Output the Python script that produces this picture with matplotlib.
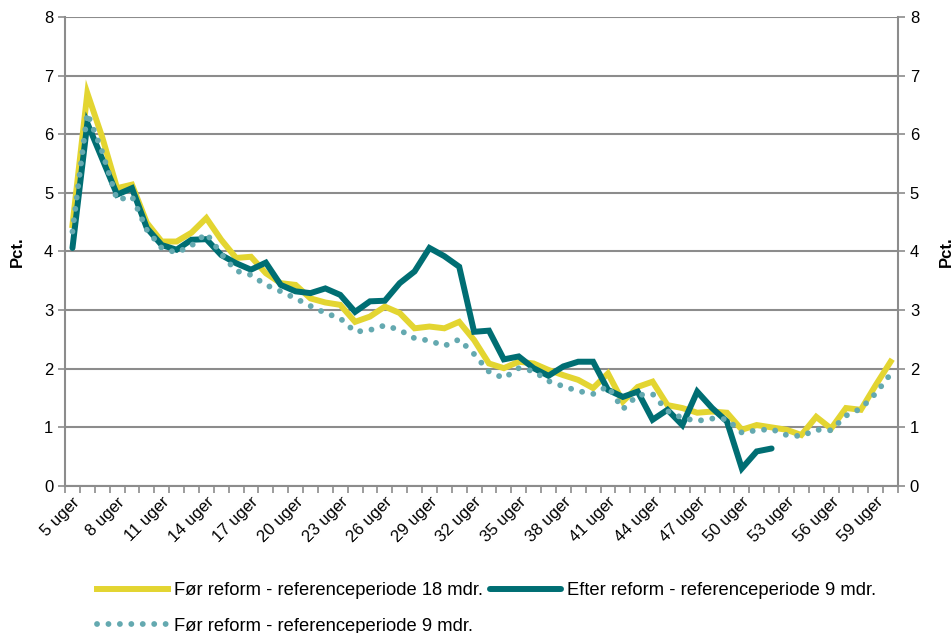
import numpy as np
import matplotlib.pyplot as plt

plt.rcParams['font.family'] = 'sans-serif'
plt.rcParams['font.sans-serif'] = ['Liberation Sans', 'Arial', 'DejaVu Sans']

# =============================================================================
# DATA
# =============================================================================
weeks = list(range(5, 61))
week_labels = [f"{w} uger" for w in weeks]

foer_18 = [4.45, 6.70, 5.95, 5.08, 5.14, 4.49, 4.17, 4.17, 4.32, 4.57,
           4.20, 3.89, 3.91, 3.63, 3.46, 3.43, 3.20, 3.13, 3.09, 2.80,
           2.89, 3.06, 2.95, 2.69, 2.72, 2.69, 2.80, 2.49, 2.09, 2.01,
           2.12, 2.09, 1.98, 1.89, 1.81, 1.67, 1.92, 1.44, 1.69, 1.78,
           1.38, 1.33, 1.25, 1.27, 1.25, 0.96, 1.04, 1.00, 0.96, 0.87,
           1.18, 0.98, 1.33, 1.30, 1.72, 2.12]

efter_9 = [4.06, 6.19, 5.58, 4.97, 5.08, 4.40, 4.11, 4.03, 4.20, 4.21,
           3.94, 3.80, 3.69, 3.81, 3.43, 3.32, 3.29, 3.37, 3.26, 2.97,
           3.15, 3.16, 3.46, 3.66, 4.06, 3.92, 3.74, 2.63, 2.65, 2.16,
           2.21, 2.01, 1.88, 2.04, 2.12, 2.12, 1.64, 1.52, 1.61, 1.13,
           1.30, 1.04, 1.61, 1.33, 1.10, 0.30, 0.59, 0.64]

foer_9 = [4.34, 6.36, 5.70, 4.88, 4.94, 4.37, 4.06, 3.98, 4.10, 4.31,
          3.96, 3.67, 3.60, 3.43, 3.32, 3.20, 3.07, 2.95, 2.86, 2.63,
          2.66, 2.74, 2.66, 2.52, 2.48, 2.39, 2.50, 2.25, 1.95, 1.84,
          2.01, 1.96, 1.79, 1.70, 1.62, 1.57, 1.70, 1.31, 1.55, 1.57,
          1.28, 1.16, 1.11, 1.15, 1.14, 0.91, 0.95, 0.97, 0.87, 0.85,
          0.96, 0.95, 1.20, 1.32, 1.58, 1.91]

# =============================================================================
# PLOT
# =============================================================================
YELLOW = '#E3D531'
TEAL = '#006E73'
DOTS = '#64A9B0'
GRID = '#8C8C8C'

fig = plt.figure(figsize=(9.52, 6.33), dpi=100)
ax = fig.add_axes([0.0683, 0.2322, 0.875, 0.741])

x = np.arange(len(weeks))
l_yel, = ax.plot(x, foer_18, color=YELLOW, linewidth=4.3, solid_joinstyle='miter',
                 label='Før reform - referenceperiode 18 mdr.', zorder=3)
l_teal, = ax.plot(np.arange(len(efter_9)), efter_9, color=TEAL, linewidth=4.3,
                  solid_joinstyle='miter', solid_capstyle='round',
                  label='Efter reform - referenceperiode 9 mdr.', zorder=4)
l_dot, = ax.plot(x, foer_9, color=DOTS, linewidth=4.2, linestyle=(0, (0.01, 1.95)),
                 dash_capstyle='round', label='Før reform - referenceperiode 9 mdr.', zorder=5)

# Axes ranges and grid
ax.set_xlim(-0.5, len(weeks) - 0.5)
ax.set_ylim(0, 8)
ax.set_yticks(range(0, 9))
ax.yaxis.grid(True, color=GRID, linewidth=1.5)
ax.set_axisbelow(True)

# category ticks between points, labels every 3rd
ax.set_xticks(np.arange(-0.5, len(weeks), 1.0), minor=True)
ax.set_xticks(x[::3])
ax.set_xticklabels(week_labels[::3], rotation=45, ha='right',
                   rotation_mode='anchor', fontsize=12)
ax.tick_params(axis='x', which='major', length=0, pad=6)
ax.tick_params(axis='x', which='minor', length=5, width=1.2, color=GRID, direction='out')

ax.tick_params(axis='y', which='major', length=5, width=1.2, color=GRID,
               labelsize=12, direction='out')

for side in ['left', 'right', 'bottom']:
    ax.spines[side].set_color(GRID)
    ax.spines[side].set_linewidth(1.5)
ax.spines['top'].set_visible(False)

ax.set_ylabel('Pct.', fontsize=12, fontweight='bold', labelpad=14)

# right twin axis with mirrored scale
ax2 = ax.twinx()
ax2.set_ylim(0, 8)
ax2.set_yticks(range(0, 9))
ax2.tick_params(axis='y', length=5, width=1.2, color=GRID, labelsize=12, direction='out')
for s in ax2.spines.values():
    s.set_visible(False)
ax2.set_ylabel('Pct.', fontsize=12, fontweight='bold', labelpad=14)

# order so the two-column legend fills row-wise like the original
ax.legend(handles=[l_yel, l_dot, l_teal], loc='upper left', bbox_to_anchor=(0.018, -0.17),
          ncol=2, frameon=False, fontsize=13.2, handlelength=3.9, handletextpad=0.3,
          columnspacing=0.4, labelspacing=1.0)

fig.savefig('out.png', dpi=100)
